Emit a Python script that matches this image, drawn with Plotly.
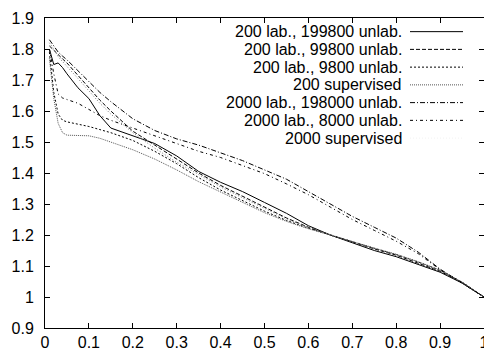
import plotly.graph_objects as go

# x positions (fraction)
x_vals = [0.01, 0.02, 0.03, 0.04, 0.05, 0.075, 0.1, 0.125, 0.15, 0.2, 0.25, 0.3, 0.35,
          0.4, 0.45, 0.5, 0.55, 0.6, 0.65, 0.7, 0.75, 0.8, 0.85, 0.9, 0.95, 1.0]

lab200_unl199800 = [1.80, 1.75, 1.755, 1.74, 1.72, 1.675, 1.64, 1.585, 1.545, 1.52, 1.495, 1.455, 1.405,
                    1.37, 1.34, 1.305, 1.27, 1.23, 1.20, 1.175, 1.15, 1.13, 1.105, 1.08, 1.045, 1.0]
lab200_unl99800 = [1.81, 1.795, 1.78, 1.768, 1.755, 1.715, 1.675, 1.635, 1.60, 1.535, 1.49, 1.445, 1.40,
                   1.36, 1.325, 1.29, 1.255, 1.225, 1.20, 1.178, 1.155, 1.135, 1.11, 1.083, 1.047, 1.0]
lab200_unl9800 = [1.79, 1.66, 1.59, 1.57, 1.565, 1.558, 1.55, 1.54, 1.53, 1.505, 1.47, 1.43, 1.385,
                  1.345, 1.31, 1.277, 1.247, 1.222, 1.20, 1.178, 1.157, 1.137, 1.113, 1.086, 1.048, 1.0]
sup200 = [1.77, 1.64, 1.56, 1.53, 1.522, 1.52, 1.52, 1.512, 1.50, 1.475, 1.445, 1.41, 1.372,
          1.338, 1.304, 1.272, 1.244, 1.22, 1.20, 1.178, 1.158, 1.138, 1.114, 1.087, 1.048, 1.0]
lab2000_unl198000 = [1.83, 1.81, 1.79, 1.777, 1.765, 1.73, 1.695, 1.66, 1.63, 1.575, 1.537, 1.51, 1.49,
                     1.465, 1.44, 1.41, 1.38, 1.34, 1.30, 1.26, 1.225, 1.19, 1.145, 1.09, 1.045, 1.0]
lab2000_unl8000 = [1.80, 1.72, 1.655, 1.642, 1.637, 1.625, 1.605, 1.585, 1.57, 1.545, 1.52, 1.495, 1.47,
                   1.45, 1.425, 1.398, 1.365, 1.33, 1.29, 1.25, 1.215, 1.18, 1.14, 1.088, 1.045, 1.0]
sup2000 = [1.82, 1.80, 1.775, 1.76, 1.745, 1.705, 1.665, 1.625, 1.59, 1.53, 1.48, 1.435, 1.395,
           1.355, 1.32, 1.285, 1.252, 1.224, 1.20, 1.178, 1.156, 1.136, 1.112, 1.085, 1.048, 1.0]

series_names = ["200 lab., 199800 unlab.", "200 lab., 99800 unlab.", "200 lab., 9800 unlab.",
                "200 supervised", "2000 lab., 198000 unlab.", "2000 lab., 8000 unlab.",
                "2000 supervised"]
series_values = [lab200_unl199800, lab200_unl99800, lab200_unl9800, sup200,
                 lab2000_unl198000, lab2000_unl8000, sup2000]

x_ticks = [0, 0.1, 0.2, 0.3, 0.4, 0.5, 0.6, 0.7, 0.8, 0.9, 1]
x_tick_labels = ["0", "0.1", "0.2", "0.3", "0.4", "0.5", "0.6", "0.7", "0.8", "0.9", "1"]
y_ticks = [0.9, 1.0, 1.1, 1.2, 1.3, 1.4, 1.5, 1.6, 1.7, 1.8, 1.9]
y_tick_labels = ["0.9", "1", "1.1", "1.2", "1.3", "1.4", "1.5", "1.6", "1.7", "1.8", "1.9"]

styles = [
    dict(color="#000000", dash="solid", key="#000000"),
    dict(color="#000000", dash="4px,2px", key="#000000"),
    dict(color="#000000", dash="2px,2px", key="#000000"),
    dict(color="#555555", dash="1px,1px", key="#555555"),
    dict(color="#000000", dash="5px,2px,1px,2px", key="#000000"),
    dict(color="#000000", dash="3px,3px,1px,3px", key="#000000"),
    dict(color="#777777", dash="1px,2px", key="#f2f2f2"),
]

# The page body has an 8px default margin, so the figure is drawn 8px smaller
# and every target screen position is shifted by that offset.
OFF = 8
W, H = 492 - OFF, 355 - OFF
ML, MR, MT, MB = 45 - OFF, 8, 10 - OFF, 27
PW, PH = W - ML - MR, H - MT - MB
FONT = "Liberation Sans, Arial, sans-serif"

fig = go.Figure()
for name, vals, st in zip(series_names, series_values, styles):
    fig.add_trace(go.Scatter(x=x_vals, y=vals, mode="lines", name=name,
                             line=dict(color=st["color"], dash=st["dash"], width=1),
                             showlegend=False))

annotations = []
shapes = []

# gnuplot-style legend: right-aligned text, sample line to the right (screen px)
row0 = 24
row_step = 18.2
text_right = 404
s_x0, s_x1 = 410, 463
for i, (name, st) in enumerate(zip(series_names, styles)):
    py = row0 + i * row_step - OFF
    yp = (H - MB - py) / PH
    annotations.append(dict(x=(text_right - OFF - ML) / PW, y=yp, xref="paper", yref="paper",
                            text=name, showarrow=False, xanchor="right", yanchor="middle",
                            font=dict(family=FONT, size=16, color="#000")))
    shapes.append(dict(type="line", xref="paper", yref="paper",
                       x0=(s_x0 - OFF - ML) / PW, x1=(s_x1 - OFF - ML) / PW, y0=yp, y1=yp,
                       line=dict(color=st["key"], dash=st["dash"], width=1)))

axis_common = dict(showgrid=False, zeroline=False, showline=True, linecolor="#000",
                   linewidth=1, mirror="allticks", ticks="inside", ticklen=5,
                   tickcolor="#000", tickwidth=1, ticklabeloverflow="allow",
                   tickfont=dict(family=FONT, size=16, color="#000"))

fig.update_layout(
    width=W, height=H, autosize=False,
    margin=dict(l=ML, r=MR, t=MT, b=MB, pad=0),
    paper_bgcolor="white", plot_bgcolor="white",
    xaxis=dict(range=[0, 1], tickvals=x_ticks, ticktext=x_tick_labels, ticklabelstandoff=0, **axis_common),
    yaxis=dict(range=[0.9, 1.9], tickvals=y_ticks, ticktext=y_tick_labels, ticklabelstandoff=7, **axis_common),
    annotations=annotations, shapes=shapes,
)

fig.write_html("out.html")
